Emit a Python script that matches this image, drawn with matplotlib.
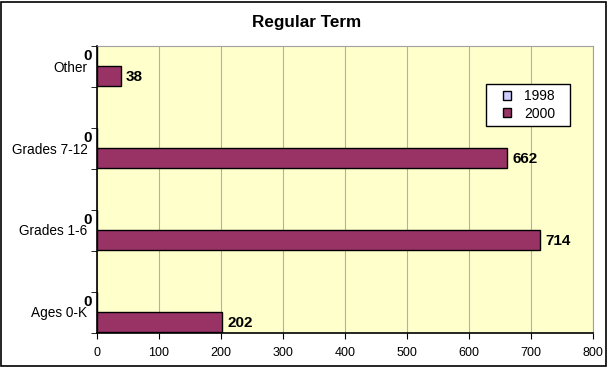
import matplotlib
matplotlib.use("Agg")
import matplotlib.pyplot as plt
import matplotlib.patches as mpatches
import numpy as np

plt.rcParams['font.family'] = ['Liberation Sans', 'DejaVu Sans']

categories = ["Ages 0-K", "Grades 1-6", "Grades 7-12", "Other"]
values_1998 = [0, 0, 0, 0]
values_2000 = [202, 714, 662, 38]
series_names = ["1998", "2000"]
x_ticks = [0, 100, 200, 300, 400, 500, 600, 700, 800]

fig = plt.figure(figsize=(6.08, 3.67), dpi=100)
W, H = 608, 367
ax = fig.add_axes([97 / W, 1 - 333 / H, (593 - 97) / W, (333 - 46) / H])
ax.set_facecolor('#FFFFCC')

# vertical scale: 82 px per category
bar_h = 20 / 82
pos = np.arange(len(categories))
ax.barh(pos, values_2000, height=bar_h, color='#993366', edgecolor='black', linewidth=1, zorder=3)
ax.barh(pos + bar_h, values_1998, height=bar_h, color='#CCCCFF', edgecolor='black', linewidth=1, zorder=3)

ymin = -11 / 82
ax.set_ylim(ymin, ymin + 287 / 82)
ax.set_xlim(0, 800)
ax.set_xticks(x_ticks)
ax.grid(axis='x', color='#B0B0B0', linewidth=0.8, zorder=0)

ax.set_yticks(pos + bar_h / 2)
ax.set_yticklabels(categories, fontsize=9.8)
ax.tick_params(axis='y', which='major', length=0, pad=7)
ax.set_yticks(ymin + 0.5 * np.arange(8), minor=True)
ax.tick_params(axis='y', which='minor', length=4, direction='out')
ax.tick_params(axis='x', length=4, labelsize=9, pad=6)

for s in ['top', 'right']:
    ax.spines[s].set_color('#A0A0A0')
for s in ['left', 'bottom']:
    ax.spines[s].set_color('black')
    ax.spines[s].set_linewidth(1.2)

for i, v in enumerate(values_2000):
    ax.annotate(str(v), xy=(v, pos[i]), xytext=(4, -1), textcoords='offset points',
                ha='left', va='center', fontsize=11, fontweight='bold', zorder=5)
for i, v in enumerate(values_1998):
    ax.annotate(str(v), xy=(v, pos[i] + bar_h), xytext=(-3.5, 0), textcoords='offset points',
                ha='right', va='center', fontsize=11, fontweight='bold', zorder=5,
                annotation_clip=False)

fig.text(307 / W, 1 - 23 / H, "Regular Term", ha='center', va='center',
         fontsize=12.3, fontweight='bold')

# legend
handles = [mpatches.Patch(facecolor='#CCCCFF', edgecolor='black', label=series_names[0]),
           mpatches.Patch(facecolor='#993366', edgecolor='black', label=series_names[1])]
leg = fig.legend(handles=handles, loc='center', bbox_to_anchor=(529 / W, 1 - 105 / H),
                 fontsize=10, frameon=False,
                 handlelength=0.6, handleheight=0.6, handletextpad=0.9, borderpad=0,
                 labelspacing=0.25)
fig.patches.append(mpatches.Rectangle((486 / W, 1 - 126 / H), 84 / W, 42 / H,
                                      transform=fig.transFigure, facecolor='white',
                                      edgecolor='black', linewidth=1, zorder=4))

fig.patches.append(mpatches.Rectangle((1 / W, 1 / H), (W - 3) / W, (H - 3) / H,
                                      transform=fig.transFigure, fill=False,
                                      edgecolor='black', linewidth=1.2))

fig.savefig("out.png", dpi=100)
